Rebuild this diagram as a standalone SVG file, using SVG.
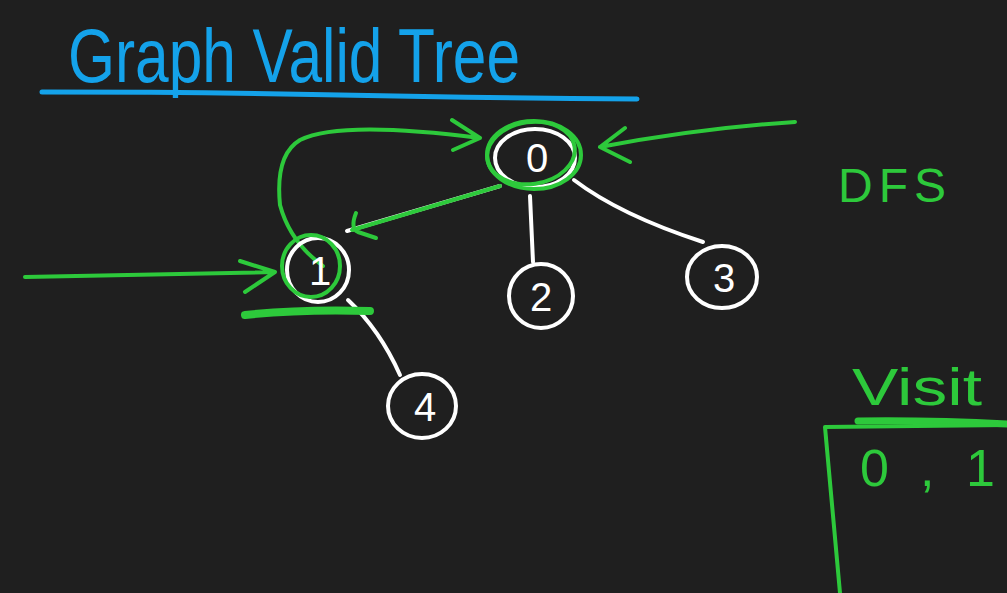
<svg xmlns="http://www.w3.org/2000/svg" width="1007" height="593" viewBox="0 0 1007 593">
<defs>
<style>
.w{fill:none;stroke:#ffffff;stroke-width:4;stroke-linecap:round;stroke-linejoin:round}
.g{fill:none;stroke:#2dc93b;stroke-width:4;stroke-linecap:round;stroke-linejoin:round}
.b{fill:none;stroke:#14a2ea;stroke-width:5;stroke-linecap:round}
.nt{fill:#ffffff;font-family:"Liberation Sans",Arial,sans-serif;font-size:40px;text-anchor:middle}
.gt{fill:#2dc93b;font-family:"Liberation Sans",Arial,sans-serif}
</style>
</defs>
<rect width="1007" height="593" fill="#1f1f1f"/>
<g id="title">
<text x="68" y="82" fill="#14a2ea" font-family="Liberation Sans,Arial,sans-serif" font-size="76" textLength="452" lengthAdjust="spacingAndGlyphs">Graph Valid Tree</text>
<path class="b" d="M42 92 Q200 92 340 95 T637 99"/>
</g>
<g id="connectors">
<path class="w" d="M500 186 L347 231"/>
<path class="w" d="M530 196 L533 262"/>
<path class="w" d="M574 180 Q620 215 703 242"/>
<path class="w" d="M348 300 Q380 330 400 375"/>
<path class="g" d="M500 186 L352 230 M356 213 Q350 228 358 232 L376 238"/>
<path class="g" d="M323 266 Q290 242 280 205 Q275 155 300 140 Q340 120 480 138 M452 120 L480 138 L453 150"/>
<path class="g" d="M25 277 L275 272 M240 261 L275 272 L245 292"/>
<path class="g" d="M795 122 Q700 128 600 147 M625 128 L600 147 L630 162"/>
<path d="M245 315 Q300 309 370 311" fill="none" stroke="#2dc93b" stroke-width="8" stroke-linecap="round"/>
</g>
<g id="node0">
<ellipse class="w" cx="535" cy="158" rx="40" ry="29"/>
<text class="nt" x="537" y="172">0</text>
<ellipse class="g" cx="534" cy="155" rx="47" ry="34"/>
<ellipse class="g" cx="531" cy="153" rx="44" ry="31" transform="rotate(-8 531 153)"/>
</g>
<g id="node1">
<ellipse class="w" cx="318" cy="270" rx="31" ry="32"/>
<text class="nt" x="320" y="285">1</text>
<ellipse class="g" cx="311" cy="266" rx="29" ry="31"/>
</g>
<g id="node2">
<ellipse class="w" cx="541" cy="296" rx="32" ry="32"/>
<text class="nt" x="541" y="311">2</text>
</g>
<g id="node3">
<ellipse class="w" cx="722" cy="277" rx="35" ry="31"/>
<text class="nt" x="724" y="292">3</text>
</g>
<g id="node4">
<ellipse class="w" cx="422" cy="406" rx="34" ry="32"/>
<text class="nt" x="425" y="421">4</text>
</g>
<g id="dfs">
<text class="gt" x="838" y="202" font-size="48" letter-spacing="6">DFS</text>
</g>
<g id="visit">
<text class="gt" x="852" y="405" font-size="52" textLength="130" lengthAdjust="spacingAndGlyphs">Visit</text>
<path d="M858 421 Q930 420 1007 424" fill="none" stroke="#2dc93b" stroke-width="7" stroke-linecap="round"/>
<path class="g" d="M1007 425 L825 427 L840 593"/>
<text class="gt" x="860" y="486" font-size="52">0</text>
<text class="gt" x="920" y="486" font-size="52">,</text>
<text class="gt" x="966" y="486" font-size="52">1</text>
</g>
</svg>
